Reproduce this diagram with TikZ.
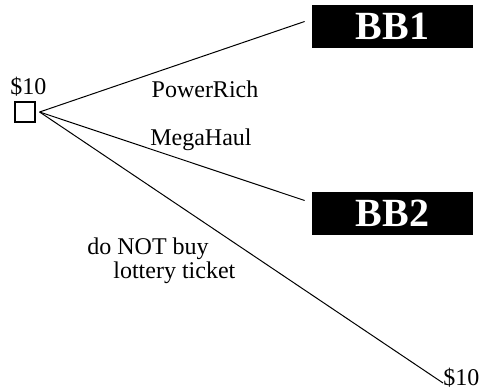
\documentclass[tikz,border=0pt]{standalone}
\usepackage{fontspec}
\setmainfont{Liberation Serif}
\usetikzlibrary{positioning}

\begin{document}
\begin{tikzpicture} [
  x=0.5pt,
  y=-0.5pt,
  font=\fontsize{12}{12}\selectfont,
  choice node/.style={rectangle,draw,line width=0.6pt,minimum size=10pt,inner sep=0pt},
  bb node/.style={rectangle,fill=black,text=white,minimum width=80.5pt,minimum height=21.5pt,
    inner sep=0pt,font=\fontsize{20}{20}\selectfont\bfseries},
  label node/.style={inner sep=0pt},
  branch/.style={line width=0.5pt},
  ]

  \useasboundingbox (0,0) rectangle (479,389);

  \node[choice node] (start) at (25,112) {};
  \node[label node] (money) at (28.5,87) {\$10};
  \node[bb node] (bb1) at (392.5,26.5) {BB1\hspace{10pt}};
  \node[bb node] (bb2) at (392.5,213.5) {BB2\hspace{10pt}};
  \node[label node, anchor=west] (keep) at (443,378) {\$10};

  \node[label node] (power) at (205,89) {PowerRich};
  \node[label node] (mega) at (201,140) {MegaHaul};
  \node[label node, anchor=west, align=left] (dont) at (87,261)
    {do NOT buy\\\hspace{13pt}lottery ticket};

  \draw[branch] ([xshift=2pt]start.east) -- ([xshift=-3.5pt,yshift=2.5pt]bb1.west);
  \draw[branch] ([xshift=2pt]start.east) -- ([xshift=-3.5pt,yshift=6.5pt]bb2.west);
  \draw[branch] ([xshift=2pt]start.east) -- ([yshift=-2.5pt]keep.west);
\end{tikzpicture}
\end{document}
